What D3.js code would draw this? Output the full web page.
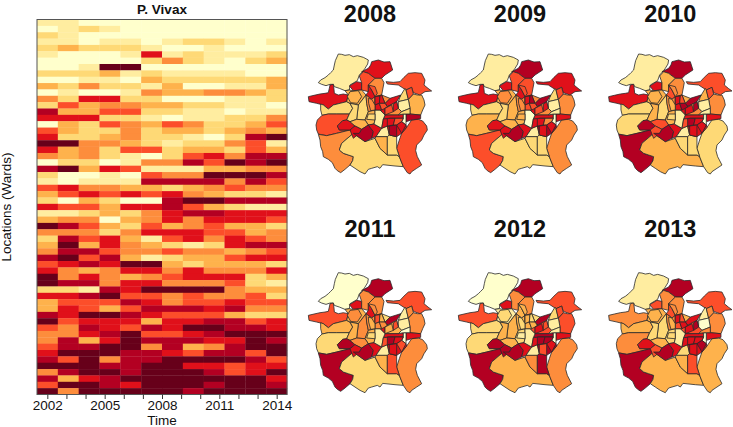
<!DOCTYPE html>
<html>
<head>
<meta charset="utf-8">
<script src="https://d3js.org/d3.v7.min.js"></script>
<style>
body { margin: 0; background: #fff; }
text { font-family: "Liberation Sans", Arial, sans-serif; fill: #111; }
</style>
</head>
<body>
<script>
// colour classes 0 (low) .. 8 (high)
var classColours = ["#FFFFCC","#FFEDA0","#FED976","#FEB24C","#FD8D3C","#FC4E2A","#E0101A","#B30022","#67001A"];

// heat map columns (bins along the time axis) and one row per ward, top to bottom
var timeBins = ["b1","b2","b3","b4","b5","b6","b7","b8","b9","b10","b11","b12"];
var timeTicks = [2002,2003,2004,2005,2006,2007,2008,2009,2010,2011,2012,2013,2014];
var timeLabels = [2002,2005,2008,2011,2014];
var heatRows = [
[1,1,0,0,0,0,0,0,0,0,0,0],
[0,1,2,1,0,0,0,0,0,0,0,0],
[2,1,0,0,0,0,0,0,0,0,0,0],
[1,1,0,1,1,0,1,2,2,1,0,1],
[2,3,2,2,2,1,0,0,1,0,0,0],
[1,0,0,0,1,6,1,2,1,1,1,2],
[0,0,0,0,0,2,4,2,1,0,2,3],
[0,0,1,8,8,0,0,0,0,0,0,0],
[2,2,2,3,1,2,1,1,1,1,0,0],
[0,0,1,1,0,3,2,2,2,2,2,3],
[3,2,4,2,2,1,3,0,0,1,1,3],
[0,1,0,0,1,4,3,3,4,4,3,2],
[4,2,6,6,2,2,0,0,0,1,1,2],
[2,5,3,4,4,3,3,2,2,1,1,0],
[7,3,3,5,5,2,2,1,1,0,1,1],
[6,6,6,2,2,1,0,1,1,2,2,4],
[0,3,2,5,4,3,5,4,2,2,3,5],
[5,3,2,2,4,2,3,3,2,3,4,3],
[6,2,2,3,4,2,2,1,0,2,7,8],
[8,8,4,4,3,2,1,2,2,4,5,1],
[6,3,4,2,5,5,2,3,3,2,5,3],
[4,3,4,2,1,0,2,5,6,4,7,7],
[0,2,2,0,1,4,4,7,5,8,7,8],
[7,8,3,6,5,1,1,1,3,3,4,4],
[2,0,0,1,0,5,4,4,8,8,8,7],
[1,0,1,1,1,7,7,7,7,4,7,5],
[5,6,4,4,3,3,2,3,4,5,4,4],
[3,5,6,5,6,5,6,4,3,2,2,1],
[2,0,3,2,0,0,7,8,8,7,7,7],
[6,5,5,3,6,6,7,5,3,2,1,1],
[1,1,2,3,2,4,6,7,7,6,6,6],
[3,4,4,0,3,4,6,4,6,6,6,5],
[8,7,5,3,2,5,3,4,5,3,3,2],
[4,4,4,2,4,6,6,6,5,5,3,4],
[2,7,5,6,3,1,5,6,4,6,5,4],
[3,8,3,6,4,3,2,1,2,6,7,7],
[4,7,7,5,4,4,5,4,4,3,4,5],
[7,8,5,7,3,1,2,3,3,5,6,6],
[5,6,7,6,8,8,3,2,3,3,3,2],
[6,4,3,4,6,6,4,6,4,4,4,6],
[8,4,6,4,3,4,5,6,6,6,2,3],
[8,7,7,4,6,6,4,4,4,5,2,1],
[2,2,1,7,6,8,8,8,8,4,3,3],
[6,6,7,8,5,5,4,5,4,4,5,2],
[3,5,5,5,7,6,4,5,5,6,5,5],
[3,6,5,3,5,7,7,7,6,7,4,4],
[7,6,8,8,7,6,5,5,5,3,2,2],
[8,5,6,6,6,3,6,6,7,7,5,6],
[5,4,7,6,5,7,6,8,8,7,7,6],
[4,4,6,7,8,5,5,6,7,8,8,8],
[4,7,3,6,8,7,7,7,6,6,8,7],
[5,7,7,8,8,4,7,3,4,7,8,8],
[6,8,8,8,7,7,6,5,7,7,5,8],
[7,5,8,4,7,7,8,8,8,8,7,5],
[8,8,8,7,7,8,8,6,6,5,6,6],
[4,7,8,8,7,8,8,8,7,5,6,8],
[7,3,6,7,8,8,8,8,8,8,8,6],
[5,8,8,7,6,8,8,8,7,8,8,7],
[8,4,8,8,8,8,8,7,8,8,8,8]
];

// ward outlines in map units (traced by hand, shared by all six maps)
var wardOutlines = [
[[115,42],[125,43],[135,46],[148,44],[160,50],[172,47],[190,52],[205,60],[203,72],[195,85],[190,92],[178,105],[172,122],[150,135],[148,150],[135,152],[118,145],[103,140],[100,133],[90,133],[78,137],[65,133],[55,128],[62,120],[75,113],[85,105],[92,98],[100,90],[103,75],[106,62]],
[[25,170],[42,166],[60,162],[75,160],[85,158],[88,145],[90,135],[100,133],[102,148],[103,160],[115,165],[130,162],[145,165],[142,176],[140,185],[120,190],[100,195],[85,207],[70,195],[50,190],[27,185]],
[[62,192],[70,195],[85,207],[100,195],[120,190],[140,185],[150,190],[158,205],[148,222],[110,222],[85,222],[66,226],[62,210]],
[[48,255],[52,240],[66,226],[85,222],[110,222],[148,222],[140,240],[128,242],[112,258],[118,270],[150,270],[110,280],[80,287],[55,282],[50,270]],
[[55,283],[80,287],[110,280],[150,270],[160,280],[125,310],[118,330],[130,340],[145,345],[160,350],[158,362],[150,375],[135,388],[122,398],[112,392],[105,385],[97,368],[85,358],[70,350],[68,335],[62,320],[60,300]],
[[125,310],[160,280],[195,305],[225,295],[240,325],[262,345],[290,345],[298,350],[310,380],[285,378],[248,374],[240,385],[232,380],[215,385],[205,388],[195,402],[180,395],[165,385],[150,375],[158,362],[160,350],[145,345],[130,340],[118,330]],
[[290,325],[298,300],[305,280],[320,262],[335,240],[355,238],[368,243],[380,258],[382,270],[372,285],[365,300],[350,315],[347,332],[352,350],[365,375],[350,385],[335,395],[330,402],[322,398],[310,380],[298,350]],
[[325,178],[340,162],[352,165],[365,165],[372,180],[375,195],[368,210],[362,225],[330,222],[330,205]],
[[258,125],[280,127],[300,125],[312,112],[325,100],[345,98],[365,100],[375,120],[372,135],[384,145],[395,153],[375,155],[360,165],[340,158],[335,142],[318,150],[295,135],[262,132]],
[[185,95],[205,85],[212,75],[215,65],[235,60],[252,66],[270,65],[278,90],[255,105],[245,115],[225,115],[205,100]],
[[148,138],[170,125],[185,128],[185,150],[160,152]],
[[178,108],[190,95],[205,100],[225,115],[205,135],[205,155],[185,150],[185,128]],
[[225,115],[245,115],[252,128],[245,165],[225,170],[215,150],[205,135]],
[[205,135],[215,150],[225,170],[215,178],[198,165],[205,155]],
[[135,152],[148,150],[160,152],[185,150],[198,165],[175,195],[150,190],[140,185],[145,165]],
[[175,195],[198,165],[200,190],[205,215],[195,240],[170,238]],
[[150,190],[175,195],[170,238],[150,245],[140,240],[148,222],[158,205]],
[[198,165],[215,178],[225,170],[225,210],[205,215],[200,190]],
[[205,215],[225,210],[225,240],[222,252],[205,255],[195,240]],
[[112,258],[128,242],[140,240],[150,245],[165,258],[150,270],[118,270]],
[[170,238],[195,240],[205,255],[185,268],[165,258],[150,245]],
[[150,270],[165,258],[185,268],[178,280],[160,295]],
[[160,280],[178,280],[185,268],[205,255],[220,275],[215,295],[195,305]],
[[205,255],[222,252],[245,265],[228,290],[215,295],[220,275]],
[[245,265],[262,258],[268,285],[262,290],[228,290]],
[[228,290],[262,290],[262,345],[240,325],[225,295]],
[[262,290],[268,285],[290,290],[290,325],[298,350],[290,345],[262,345]],
[[262,258],[268,258],[290,255],[305,245],[318,255],[320,262],[305,280],[290,290],[268,285]],
[[255,190],[270,175],[302,165],[290,185],[262,200]],
[[300,170],[315,145],[318,150],[325,178],[295,185],[302,165]],
[[318,150],[335,142],[340,162],[325,178]],
[[295,185],[325,178],[330,205],[305,215],[295,205]],
[[255,205],[262,200],[290,185],[295,205],[305,215],[295,225],[255,225]],
[[255,225],[295,225],[310,222],[310,235],[270,235],[250,237]],
[[225,170],[245,165],[255,190],[262,200],[255,205],[255,225],[240,210],[225,210]],
[[225,210],[240,210],[255,225],[250,237],[245,265],[222,252],[225,240]],
[[250,237],[270,235],[310,235],[305,245],[290,255],[262,258],[245,265]],
[[330,222],[362,225],[362,236],[335,240],[318,245],[318,222]],
[[310,222],[318,222],[318,245],[318,255],[305,245],[310,235]],
[[245,165],[270,175],[255,190]],
[[305,215],[330,205],[330,222],[318,222],[310,222],[295,225]],
// small inner-city wards, drawn last
[[225,170],[240,168],[238,190],[225,195]],
[[240,168],[245,165],[255,190],[238,190]],
[[225,195],[238,190],[245,210],[225,210]],
[[238,190],[255,190],[262,200],[255,205],[245,210]],
[[205,175],[215,178],[225,195],[225,210],[212,212],[206,190]],
[[255,205],[275,195],[280,215],[255,225]],
[[280,193],[290,185],[295,205],[280,215]],
[[262,235],[285,235],[280,255],[262,258]],
[[285,235],[310,235],[305,245],[290,255],[280,255]],
[[290,255],[305,245],[318,255],[305,280]],
[[268,258],[290,255],[290,290],[268,285]],
[[150,155],[175,152],[185,170],[172,190],[152,188],[142,170]],
[[205,135],[225,140],[232,160],[225,170],[215,150]],
[[205,222],[225,222],[225,240],[200,238]]
];

// colour class of each ward above, one list per year
var wards2008 = [1,6,2,5,4,2,5,3,5,6,6,5,4,6,3,2,2,4,3,6,3,6,7,6,1,3,2,6,6,2,5,1,4,6,6,1,6,7,0,4,2, 6,6,6,5,4,5,6,6,5,6,7,3,5,2];
var wards2009 = [1,6,2,3,5,2,4,4,6,7,6,5,5,6,3,3,2,4,3,6,3,6,7,6,1,2,2,7,7,2,5,1,4,6,6,0,6,6,0,4,1, 6,7,5,5,4,5,6,6,4,6,6,4,5,3];
var wards2010 = [1,6,2,2,7,3,2,4,5,7,6,3,4,5,3,2,3,4,3,7,5,5,7,6,1,2,2,6,7,3,5,1,4,6,6,1,5,6,0,3,1, 6,5,6,7,3,6,7,7,6,6,6,3,4,2];
var wards2011 = [0,5,3,2,7,2,4,4,5,7,6,4,4,6,3,4,3,4,3,7,4,6,7,6,1,3,5,6,7,1,4,1,3,6,6,1,5,6,0,2,0, 5,3,4,4,3,3,5,7,6,5,6,4,4,2];
var wards2012 = [0,5,2,2,7,3,4,5,5,7,6,4,4,3,1,3,3,3,2,7,3,7,7,6,1,4,7,7,7,2,5,1,5,7,5,1,6,6,0,2,1, 3,2,3,3,2,6,5,7,7,6,5,2,3,1];
var wards2013 = [1,4,3,4,7,3,3,4,5,7,5,4,4,5,3,2,2,4,2,6,3,5,7,6,2,3,5,6,6,1,4,0,5,6,5,1,6,6,0,3,4, 6,5,5,6,3,6,7,6,6,7,6,3,4,2];

var mapYears = ["2008","2009","2010","2011","2012","2013"];
var wardClasses = [wards2008,wards2009,wards2010,wards2011,wards2012,wards2013];

var svg = d3.select("body").append("svg")
	.attr("width", 733)
	.attr("height", 427);

var colour = d3.scaleOrdinal().domain(d3.range(9)).range(classColours);

// --- heat map ---
var heat = {left: 37, right: 287, top: 19.5, bottom: 394.5};

var x = d3.scaleBand().domain(timeBins).range([heat.left, heat.right]);
var y = d3.scaleBand().domain(d3.range(heatRows.length)).range([heat.top, heat.bottom]);

heatRows.forEach(function(row, r){
	svg.append("g").selectAll("rect")
		.data(row)
		.enter()
		.append("rect")
		.attr("x", function(d, i){ return x(timeBins[i]); })
		.attr("y", y(r))
		.attr("width", x.bandwidth() + 0.3)
		.attr("height", y.bandwidth() + 0.3)
		.attr("fill", function(d){ return colour(d); });
});

svg.append("rect")
	.attr("x", heat.left)
	.attr("y", heat.top)
	.attr("width", heat.right - heat.left)
	.attr("height", heat.bottom - heat.top)
	.attr("fill", "none")
	.attr("stroke", "#555");

// time axis runs a little past both end years
var xTime = d3.scaleLinear().domain([2001.46, 2014.54]).range([heat.left, heat.right]);
var axis = svg.append("g")
	.attr("transform", "translate(0," + heat.bottom + ")")
	.call(d3.axisBottom(xTime)
		.tickValues(timeTicks)
		.tickSize(4.5)
		.tickPadding(1.4)
		.tickFormat(function(d){ return timeLabels.indexOf(d) > -1 ? d : ""; }));
axis.select(".domain").remove();
axis.selectAll("line").attr("stroke", "#333");
axis.selectAll("text")
	.style("font-size", "13.5px")
	.style("font-family", "'Liberation Sans', Arial, sans-serif")
	.attr("fill", "#111");

svg.append("text")
	.attr("x", 162)
	.attr("y", 14)
	.attr("text-anchor", "middle")
	.style("font-size", "13.5px")
	.style("font-weight", "bold")
	.text("P. Vivax");

svg.append("text")
	.attr("x", 162)
	.attr("y", 425)
	.attr("text-anchor", "middle")
	.style("font-size", "13.5px")
	.text("Time");

svg.append("text")
	.attr("transform", "translate(11,207) rotate(-90)")
	.attr("text-anchor", "middle")
	.style("font-size", "13.5px")
	.text("Locations (Wards)");

// --- six ward maps ---
var panelLeft = [300, 450, 600.3];
var panelTop = [40, 258.7];

mapYears.forEach(function(year, i){
	var col = i % 3, rowNo = Math.floor(i / 3);
	// map units to pixels, one pair of scales per panel
	var mx = d3.scaleLinear().domain([0, 420]).range([panelLeft[col], panelLeft[col] + 140]);
	var my = d3.scaleLinear().domain([0, 450]).range([panelTop[rowNo], panelTop[rowNo] + 150]);
	var outline = d3.line()
		.x(function(d){ return mx(d[0]); })
		.y(function(d){ return my(d[1]); })
		.curve(d3.curveLinearClosed);

	var g = svg.append("g");
	g.selectAll("path")
		.data(wardOutlines)
		.enter()
		.append("path")
		.attr("d", outline)
		.attr("fill", function(d, w){ return colour(wardClasses[i][w]); })
		.attr("stroke", "#2a2a2a")
		.attr("stroke-width", 0.8)
		.attr("stroke-linejoin", "round");

	g.append("text")
		.attr("x", mx(210))
		.attr("y", rowNo == 0 ? 21.5 : 237)
		.attr("text-anchor", "middle")
		.style("font-size", "23.5px")
		.style("font-weight", "bold")
		.text(year);
});
</script>
</body>
</html>
